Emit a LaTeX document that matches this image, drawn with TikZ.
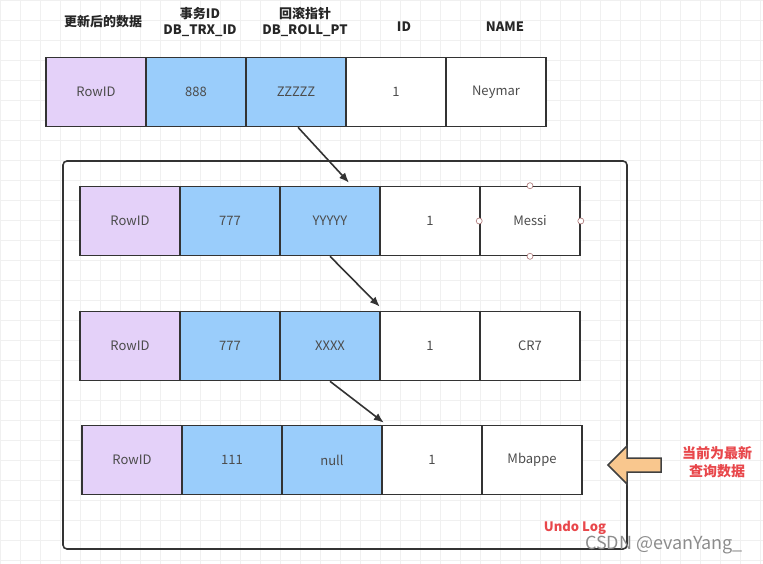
\documentclass[tikz,border=0pt]{standalone}
\usepackage{fontspec}
\setmainfont{Noto Sans CJK SC}
\usetikzlibrary{arrows.meta}
\definecolor{rowpurple}{HTML}{E4D1F9}
\definecolor{rowblue}{HTML}{9ACDFB}
\definecolor{arroworange}{HTML}{F9C78E}
\definecolor{notered}{HTML}{E8474B}
\tikzset{
    cell/.style = {rectangle, draw=black!80, line width=1.6pt, minimum width=100pt, minimum height=69pt, fill=white, text=black!70, font=\fontsize{13}{15}\selectfont},
    cellp/.style = {cell, fill=rowpurple},
    cellb/.style = {cell, fill=rowblue},
    head/.style = {align=center, font=\bfseries\fontsize{13}{16}\selectfont, text=black!85},
    note/.style = {align=center, font=\bfseries\fontsize{14}{18}\selectfont, text=notered},
    handle/.style = {circle, draw=red!40!black!55, fill=white, inner sep=0pt, minimum size=6pt, line width=0.6pt},
    edgen/.style = {-{Latex[length=10pt,width=8pt]}, line width=1.6pt, black!80},
    bigarrow/.style = {fill=arroworange, draw=black!75, line width=1.5pt, line join=miter}
}

\begin{document}
\begin{tikzpicture}[x=1pt,y=-1pt]
\useasboundingbox (0,0) rectangle (763,564);
\draw[black!6, step=20pt] (0,0) grid (763,564);
%
\node[head] at (103, 22) (h1) {更新后的数据};
\node[head] at (200, 22) (h2) {事务ID\\DB\_TRX\_ID};
\node[head] at (305, 22) (h3) {回滚指针\\DB\_ROLL\_PT};
\node[head] at (404, 27) (h4) {ID};
\node[head] at (505, 27) (h5) {NAME};
%
\node[cellp] at ( 96, 92) (r0a) {RowID};
\node[cellb] at (196, 92) (r0b) {888};
\node[cellb] at (296, 92) (r0c) {ZZZZZ};
\node[cell]  at (396, 92) (r0d) {1};
\node[cell]  at (496, 92) (r0e) {Neymar};
%
\node[draw=black!80, line width=1.6pt, rounded corners=4pt, minimum width=564pt, minimum height=388pt] at (345, 355) (undo) {};
%
\node[cellp] at (130, 221) (r1a) {RowID};
\node[cellb] at (230, 221) (r1b) {777};
\node[cellb] at (330, 221) (r1c) {YYYYY};
\node[cell]  at (430, 221) (r1d) {1};
\node[cell]  at (530, 221) (r1e) {Messi};
\node[handle] at (r1e.north) (k1) {};
\node[handle] at (r1e.south) (k2) {};
\node[handle] at (r1e.east) (k3) {};
\node[handle] at (r1e.west) (k4) {};
%
\node[cellp] at (130, 346) (r2a) {RowID};
\node[cellb] at (230, 346) (r2b) {777};
\node[cellb] at (330, 346) (r2c) {XXXX};
\node[cell]  at (430, 346) (r2d) {1};
\node[cell]  at (530, 346) (r2e) {CR7};
%
\node[cellp] at (132, 460) (r3a) {RowID};
\node[cellb] at (232, 460) (r3b) {111};
\node[cellb] at (332, 460) (r3c) {null};
\node[cell]  at (432, 460) (r3d) {1};
\node[cell]  at (532, 460) (r3e) {Mbappe};
%
\draw[edgen] ([xshift=2pt]r0c.south) -- ([xshift=19pt,yshift=3pt]r1c.north);
\draw[edgen] (r1c.south) -- ([xshift=-1pt,yshift=4pt]r2c.north east);
\draw[edgen] (r2c.south) -- ([xshift=1pt,yshift=2pt]r3c.north east);
%
\draw[bigarrow] (608,465) -- (627,446) -- (627,458) -- (661,458) -- (661,472) -- (627,472) -- (627,484) -- cycle;
\node[note] at (717, 462) (cur) {当前为最新\\查询数据};
\node[note, font=\bfseries\fontsize{13}{15}\selectfont] at (575, 528) (undolabel) {Undo Log};
\node[text=black!45, font=\fontsize{18}{20}\selectfont] at (664, 545) (wm) {CSDN @evanYang\_};
\end{tikzpicture}
\end{document}
